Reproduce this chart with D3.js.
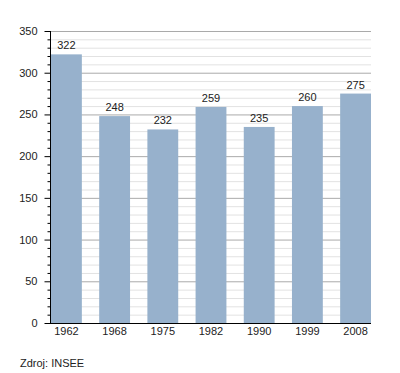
<!DOCTYPE html>
<html>
<head>
<meta charset="utf-8">
<script src="https://cdn.jsdelivr.net/npm/d3@7.9.0/dist/d3.min.js"></script>
<style>
  body { margin: 0; background: #fff; }
  svg { display: block; font-family: "Liberation Sans", Arial, sans-serif; }
</style>
</head>
<body>
<svg id="chart" width="400" height="373"></svg>
<script>
// Population by census year
const years = ['1962', '1968', '1975', '1982', '1990', '1999', '2008'];
const population = [322, 248, 232, 259, 235, 260, 275];
const yMajorTicks = [0, 50, 100, 150, 200, 250, 300, 350];
const sourceNote = 'Zdroj: INSEE';

const svg = d3.select('#chart');
const plotLeft = 50, plotRight = 371, plotTop = 31, plotBottom = 323;

const x = d3.scaleBand()
  .domain(years)
  .range([plotLeft + 1, plotRight])
  .paddingInner(0.36)
  .paddingOuter(0);

const y = d3.scaleLinear().domain([0, 350]).range([plotBottom, plotTop]);

// minor grid every 10
const minor = d3.range(0, 351, 10).filter(v => v % 50 !== 0);
svg.append('g').selectAll('line')
  .data(minor)
  .join('line')
  .attr('x1', plotLeft).attr('x2', plotRight)
  .attr('y1', d => y(d) + 0.5).attr('y2', d => y(d) + 0.5)
  .attr('stroke', '#e2e2e2');

// major grid every 50
svg.append('g').selectAll('line')
  .data(yMajorTicks.filter(v => v > 0))
  .join('line')
  .attr('x1', plotLeft).attr('x2', plotRight)
  .attr('y1', d => y(d) + 0.5).attr('y2', d => y(d) + 0.5)
  .attr('stroke', '#aaaaaa');

// bars
svg.append('g').selectAll('rect')
  .data(population)
  .join('rect')
  .attr('x', (d, i) => x(years[i]))
  .attr('y', d => y(d))
  .attr('width', x.bandwidth())
  .attr('height', d => y(0) - y(d))
  .attr('fill', '#97b1cc');

// value labels
svg.append('g').selectAll('text')
  .data(population)
  .join('text')
  .attr('x', (d, i) => x(years[i]) + x.bandwidth() / 2)
  .attr('y', d => y(d) - 5)
  .attr('text-anchor', 'middle')
  .attr('font-size', 11)
  .attr('fill', '#222')
  .text(d => d);

// y axis
const yAxis = svg.append('g').attr('transform', `translate(${plotLeft + 0.5},0)`);
yAxis.append('line')
  .attr('y1', plotTop).attr('y2', plotBottom + 0.5)
  .attr('stroke', '#000');
yAxis.selectAll('.minor')
  .data(minor)
  .join('line')
  .attr('x1', -3).attr('x2', 0)
  .attr('y1', d => y(d) + 0.5).attr('y2', d => y(d) + 0.5)
  .attr('stroke', '#000');
yAxis.selectAll('.major')
  .data(yMajorTicks)
  .join('line')
  .attr('x1', -6).attr('x2', 0)
  .attr('y1', d => y(d) + 0.5).attr('y2', d => y(d) + 0.5)
  .attr('stroke', '#000');
yAxis.selectAll('text')
  .data(yMajorTicks)
  .join('text')
  .attr('x', -13)
  .attr('y', d => y(d) + 4)
  .attr('text-anchor', 'end')
  .attr('font-size', 11)
  .attr('fill', '#222')
  .text(d => d);

// x axis
svg.append('line')
  .attr('x1', plotLeft).attr('x2', plotRight)
  .attr('y1', plotBottom + 0.5).attr('y2', plotBottom + 0.5)
  .attr('stroke', '#000');
svg.append('g').selectAll('text')
  .data(years)
  .join('text')
  .attr('x', d => x(d) + x.bandwidth() / 2)
  .attr('y', 335)
  .attr('text-anchor', 'middle')
  .attr('font-size', 11)
  .attr('fill', '#222')
  .text(d => d);

// source
svg.append('text')
  .attr('x', 20)
  .attr('y', 367)
  .attr('font-size', 11)
  .attr('fill', '#222')
  .text(sourceNote);
</script>
</body>
</html>
